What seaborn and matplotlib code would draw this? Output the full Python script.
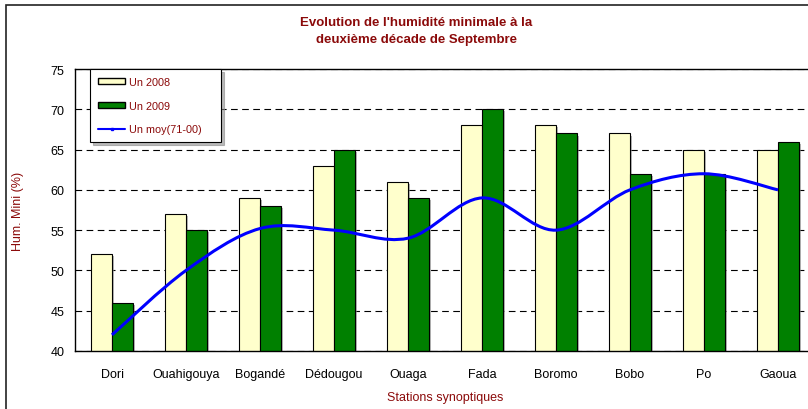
import numpy as np
import pandas as pd
import seaborn as sns
import matplotlib.pyplot as plt
from matplotlib.path import Path
from matplotlib.patches import PathPatch, Patch, Rectangle
from matplotlib.lines import Line2D
import matplotlib.patheffects as pe

stations = ["Dori", "Ouahigouya", "Bogandé", "Dédougou", "Ouaga",
            "Fada", "Boromo", "Bobo", "Po", "Gaoua"]
un_2008 = [52, 57, 59, 63, 61, 68, 68, 67, 65, 65]
un_2009 = [46, 55, 58, 65, 59, 70, 67, 62, 62, 66]
un_moy = [42, 50, 55.2, 55, 54, 59, 55, 60, 62, 60]

series = ["Un 2008", "Un 2009"]
couleurs = ["#FFFFCC", "#008000"]
rouge = "#8B0A0A"

df = pd.DataFrame({
    "station": stations * 2,
    "valeur": un_2008 + un_2009,
    "serie": [series[0]] * 10 + [series[1]] * 10,
})

sns.set_style("white")
plt.rcParams["font.family"] = ["Liberation Sans", "DejaVu Sans"]

fig = plt.figure(figsize=(8.08, 4.10), dpi=100)
W, H = 808, 410
ax = fig.add_axes([75 / W, (H - 352) / H, 740 / W, 282 / H])

sns.barplot(data=df, x="station", y="valeur", hue="serie", palette=couleurs,
            width=0.57, edgecolor="black", linewidth=0.8, saturation=1,
            legend=False, ax=ax, zorder=2)
for bar in ax.patches:
    bar.set_path_effects([pe.SimplePatchShadow(offset=(1.5, -1.5), shadow_rgbFace="#888888", alpha=0.6),
                          pe.Normal()])

# courbe lissée (type Excel) passant par les moyennes
x = np.arange(len(un_moy), dtype=float)
y = np.array(un_moy, dtype=float)
verts = [(x[0], y[0])]
codes = [Path.MOVETO]
n = len(x)
for i in range(n - 1):
    p0 = np.array([x[max(i - 1, 0)], y[max(i - 1, 0)]])
    p1 = np.array([x[i], y[i]])
    p2 = np.array([x[i + 1], y[i + 1]])
    p3 = np.array([x[min(i + 2, n - 1)], y[min(i + 2, n - 1)]])
    c1 = p1 + (p2 - p0) / 6
    c2 = p2 - (p3 - p1) / 6
    verts += [tuple(c1), tuple(c2), tuple(p2)]
    codes += [Path.CURVE4] * 3
ax.add_patch(PathPatch(Path(verts, codes), facecolor="none", edgecolor="#0000FF",
                       lw=2.2, zorder=3))

ax.set_xlim(-0.5, 9.5)
ax.set_ylim(40, 75)
ax.set_yticks(range(40, 76, 5))
ax.yaxis.grid(True, linestyle=(0, (6, 4)), color="black", lw=0.8)
ax.xaxis.grid(False)
ax.set_axisbelow(True)

for s in ["left", "bottom", "top"]:
    ax.spines[s].set_visible(True)
    ax.spines[s].set_color("black")
    ax.spines[s].set_linewidth(1.0)
ax.spines["right"].set_visible(False)

ax.set_xticks(range(len(stations)))
ax.set_xticklabels(stations)
ax.set_xticks(np.arange(0.5, 9.5, 1), minor=True)
ax.tick_params(axis="x", which="major", length=0, pad=12, labelsize=9, colors="black")
ax.tick_params(axis="x", which="minor", length=6, direction="inout", width=0.8, color="black")
ax.tick_params(axis="y", length=7, direction="inout", width=0.8, color="black",
               pad=4, labelsize=9, labelcolor="black")

ax.set_xlabel("Stations synoptiques", color=rouge, fontsize=9)
ax.xaxis.set_label_coords(0.5, -(392 - 352) / 282)
ax.xaxis.label.set_va("top")
ax.set_ylabel("Hum. Mini (%)", color=rouge, fontsize=9)
ax.yaxis.set_label_coords(-(75 - 18) / 740, 0.5)
ax.yaxis.label.set_va("center")

handles = [
    Patch(facecolor=couleurs[0], edgecolor="black", lw=1),
    Patch(facecolor=couleurs[1], edgecolor="black", lw=1),
    Line2D([], [], color="#0000FF", lw=1.5, marker="s", markersize=1.5),
]
leg = ax.legend(handles, ["Un 2008", "Un 2009", "Un moy(71-00)"],
                loc="upper left", bbox_to_anchor=((90 - 75) / 740, 0, 131 / 740, 1.0),
                mode="expand",
                fontsize=7.8, frameon=True, fancybox=False,
                shadow={"color": "0.55", "alpha": 0.6},
                handlelength=2.5, handleheight=0.45, handletextpad=0.35,
                labelspacing=1.25, borderpad=0.75, borderaxespad=0)
leg.get_frame().set_edgecolor("black")
leg.get_frame().set_linewidth(0.8)
for t in leg.get_texts():
    t.set_color(rouge)

fig.text(416 / W, 1 - 17 / H,
         "Evolution de l'humidité minimale à la\ndeuxième décade de Septembre",
         ha="center", va="top", fontsize=9.5, fontweight="bold", color=rouge,
         linespacing=1.5)

fig.patches.append(Rectangle((6 / W, -0.1), 2, 1 - 6 / H + 0.1, transform=fig.transFigure,
                             fill=False, edgecolor="#222222", lw=1.2))

fig.savefig("out.png", dpi=100)
